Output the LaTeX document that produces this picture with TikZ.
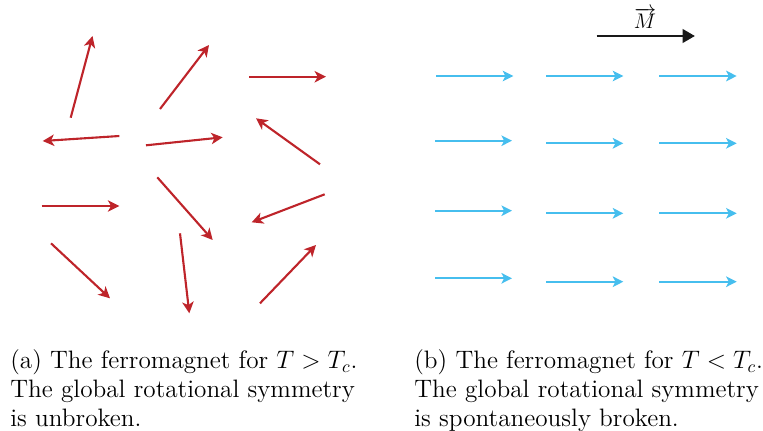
\documentclass[tikz,border=0pt]{standalone}
\usetikzlibrary{arrows.meta}

\definecolor{spinred}{RGB}{190,36,42}
\definecolor{spinblue}{RGB}{70,190,238}
\definecolor{magcol}{RGB}{25,25,25}

\begin{document}
\begin{tikzpicture}[x=0.02cm, y=-0.02cm,
    redspin/.style={spinred, line width=1.2pt, -{Stealth[length=6.5pt, width=6.5pt, inset=1.8pt]}},
    bluespin/.style={spinblue, line width=1.3pt, -{Stealth[length=6pt, width=6pt, inset=1.5pt]}},
    magarrow/.style={magcol, line width=1.7pt, -{Triangle[length=7pt, width=7.5pt]}},
    caption/.style={anchor=north west, inner sep=0pt, align=left,
      font=\fontsize{14.35}{16.5}\selectfont}]
  % Bounding box fixe
  \path[use as bounding box] (0,0) rectangle (763,430);

  % (a) disordered spins, T > Tc
  \foreach \sx/\sy/\tx/\ty in {70.7/117.7/92.5/36,  160/109/209/45,
      249/76.7/326/76.7,  119.3/136/42.7/141,  146/145.3/222.7/137.3,
      320/164.3/256/118.3,  41.7/206/119.3/206,  157.3/177.3/212.7/240,
      324.7/194.3/251.7/222.3,  51/243.3/110/298.3,  180/233.3/189.3/313.3,
      260/303.3/316/245}
    \draw[redspin] (\sx,\sy) -- (\tx,\ty);

  % (b) aligned spins, T < Tc
  \foreach \sx/\tx/\sy in {436/513.3/76, 546/623.3/76, 659.3/736.7/76,
      435/512/140.7, 546/623.3/143.3, 659.3/736.7/143.3,
      435/512/210.7, 546/623.3/213.3, 659.3/736.7/213.3,
      435/512/278.3, 546/623.3/281.7, 659.3/736.7/281.7}
    \draw[bluespin] (\sx,\sy) -- (\tx,\sy);

  % Magnetisation.
  \coordinate (Mtail) at (596.7,36);
  \coordinate (Mhead) at (695,36);
  \draw[magarrow] (Mtail) -- (Mhead);
  \node[anchor=base, inner sep=0pt, font=\large] (Mlabel) at (645,28.5) {$\overrightarrow{M}$};

  % Captions.
  \node[caption] (capa) at (10,349.5)
    {(a) The ferromagnet for $T > T_c$.\\The global rotational symmetry\\is unbroken.};
  \node[caption] (capb) at (414,349.5)
    {(b) The ferromagnet for $T < T_c$.\\The global rotational symmetry\\is spontaneously broken.};
\end{tikzpicture}
\end{document}
